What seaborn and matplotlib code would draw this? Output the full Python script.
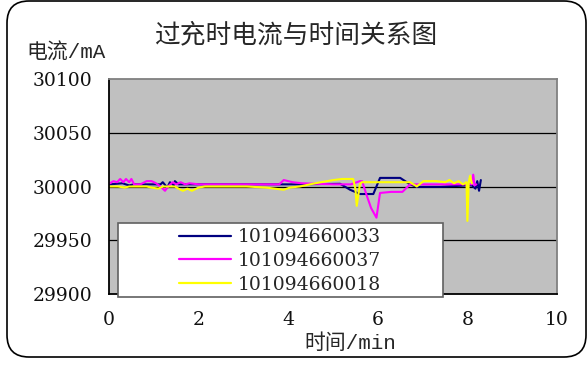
import numpy as np
import pandas as pd
import seaborn as sns
import matplotlib
matplotlib.use("Agg")
import matplotlib.pyplot as plt
from matplotlib.patches import FancyBboxPatch, Rectangle

# Series names (cell serial numbers)
series_names = ["101094660033", "101094660037", "101094660018"]

# Cell 101094660033
t_033 = [0.02, 0.30, 0.45, 0.55, 1.15, 1.20, 1.30, 1.36, 1.45, 1.47, 1.55, 2.00,
         4.26, 5.16, 5.38, 5.60, 5.90, 6.05, 6.50, 6.72, 6.87, 7.39, 7.98, 8.10,
         8.18, 8.22, 8.26, 8.30]
i_033 = [30002, 30003, 30001, 30002, 30002, 30004, 29999, 30004, 30001, 30005, 30002, 30002,
         30002, 30002.5, 29997, 29993, 29993, 30008, 30008, 30002, 29999.7, 29999.7, 30001, 30001,
         29998, 30005, 29996, 30006]

# Cell 101094660037
t_037 = [0.02, 0.10, 0.18, 0.25, 0.32, 0.38, 0.45, 0.50, 0.56, 0.70, 0.84, 0.95,
         1.05, 1.15, 1.25, 1.32, 1.42, 1.50, 1.60, 1.70, 1.80, 2.00, 3.00, 3.80,
         3.90, 4.10, 4.30, 5.00, 5.40, 5.60, 5.65, 5.75, 5.85, 5.97, 6.05, 6.30,
         6.55, 6.72, 7.00, 7.50, 8.00, 8.10, 8.13, 8.16, 8.20]
i_037 = [30003, 30005, 30004, 30007, 30004, 30007, 30004, 30007, 30002, 30002, 30005, 30005,
         30003, 30000, 29996, 30000, 30004, 30002, 30004, 30002, 30003, 30002, 30002, 30002,
         30006, 30004, 30003, 30002, 30002, 30005, 30005, 29992, 29980, 29971, 29994, 29995,
         29995, 30002, 30002, 30002, 30002, 30002, 30011, 30001, 30002]

# Cell 101094660018
t_018 = [0.02, 0.20, 0.35, 0.45, 0.84, 0.95, 1.10, 1.20, 1.47, 1.55, 1.65, 1.75,
         1.85, 2.00, 2.14, 3.07, 3.50, 3.90, 4.04, 4.26, 4.60, 5.01, 5.20, 5.45,
         5.50, 5.53, 5.60, 5.64, 6.00, 6.57, 6.72, 6.87, 7.02, 7.30, 7.50, 7.60,
         7.70, 7.80, 7.90, 7.98, 8.00, 8.03, 8.06, 8.10]
i_018 = [30000, 30000, 29999, 30000, 30000, 29999, 29998, 30000, 30000, 29998, 29996, 29998,
         29996, 29999, 30000, 30000, 29999, 29997, 29999, 30000, 30003, 30006, 30007, 30007,
         29998, 29982, 30002, 30004, 30004, 30004, 30004, 30000, 30005, 30005, 30004, 30006,
         30003, 30005, 30002, 30004, 29968, 30004, 30010, 30003]

series_colors = ["#000080", "#FF00FF", "#FFFF00"]

x_ticks = [0, 2, 4, 6, 8, 10]
y_ticks = [29900, 29950, 30000, 30050, 30100]

title_text = "过充时电流与时间关系图"
ylabel_text = "电流/mA"
xlabel_text = "时间/min"

frames = []
for name, t, v in zip(series_names, [t_033, t_037, t_018], [i_033, i_037, i_018]):
    frames.append(pd.DataFrame({"time": t, "current": v, "cell": name}))
df = pd.concat(frames, ignore_index=True)

sns.set_theme(style="white")
plt.rcParams["font.family"] = ["DejaVu Serif", "Noto Sans CJK SC"]

W, H = 588, 365
fig = plt.figure(figsize=(W / 100, H / 100), dpi=100)
fig.patch.set_facecolor("white")

# plot area in pixel coordinates
L, R, T, B = 109, 557, 79, 294
ax = fig.add_axes([L / W, 1 - B / H, (R - L) / W, (B - T) / H])
ax.set_facecolor("#C0C0C0")

sns.lineplot(data=df, x="time", y="current", hue="cell", hue_order=series_names,
             palette=series_colors, sort=False, estimator=None, linewidth=1.5, ax=ax)

handles, labels = ax.get_legend_handles_labels()
ax.get_legend().remove()

ax.set_xlim(0, 10)
ax.set_ylim(29900, 30100)
ax.set_xticks(x_ticks)
ax.set_yticks(y_ticks)
ax.set_xlabel("")
ax.set_ylabel("")
for yv in y_ticks[1:-1]:
    ax.axhline(yv, color="black", linewidth=0.9, zorder=1)

ax.tick_params(axis="both", direction="in", length=4, width=1, color="black",
               labelsize=13.5, pad=12, labelcolor="#111111")
for s in ["left", "bottom"]:
    ax.spines[s].set_color("black")
    ax.spines[s].set_linewidth(1.3)
for s in ["top", "right"]:
    ax.spines[s].set_color("#808080")
    ax.spines[s].set_linewidth(1.3)

# legend box
box = Rectangle((118 / W, 1 - 297 / H), (443 - 118) / W, (297 - 223) / H,
                transform=fig.transFigure, facecolor="white", edgecolor="#606060",
                linewidth=1.2, zorder=5)
fig.patches.append(box)
leg = fig.legend(handles, labels, loc="center", bbox_to_anchor=(280 / W, 1 - 261 / H),
                 frameon=False, fontsize=13.5, handlelength=2.8, handletextpad=0.35,
                 labelspacing=0.3, borderpad=0)
leg.set_zorder(6)
for ln in leg.get_lines():
    ln.set_linewidth(1.6)

# titles
fig.text(296 / W, 1 - 35 / H, title_text, ha="center", va="center", fontsize=18.5,
         family=["Liberation Mono", "Noto Sans CJK SC"])
fig.text(26 / W, 1 - 53 / H, ylabel_text, ha="left", va="center", fontsize=15,
         family=["Liberation Mono", "Noto Sans CJK SC"])
fig.text(350 / W, 1 - 343 / H, xlabel_text, ha="center", va="center", fontsize=15,
         family=["Liberation Mono", "Noto Sans CJK SC"])

# rounded outer border
border = FancyBboxPatch((7, 8), 579, 356, boxstyle="round,pad=0,rounding_size=22",
                        transform=None, facecolor="none", edgecolor="black",
                        linewidth=1.2, zorder=10)
fig.patches.append(border)

fig.savefig("out.png", dpi=100)
